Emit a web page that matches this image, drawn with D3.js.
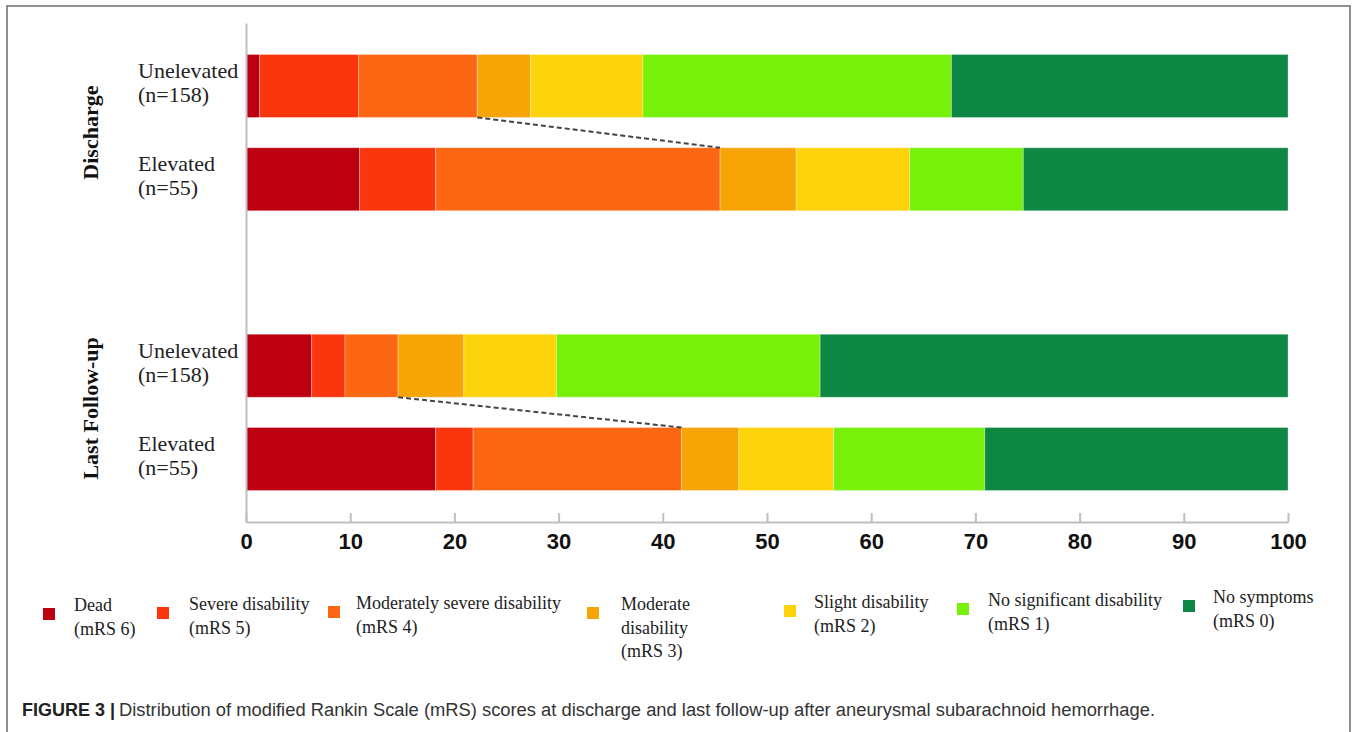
<!DOCTYPE html>
<html>
<head>
<meta charset="utf-8">
<script src="https://cdn.jsdelivr.net/npm/d3@7"></script>
<style>
  body { margin: 0; background: #fff; }
  svg { display: block; }
</style>
</head>
<body>
<svg id="chart" width="1357" height="732"></svg>
<script>
// mRS categories, worst to best (stack order left -> right)
const categories = ["mRS 6", "mRS 5", "mRS 4", "mRS 3", "mRS 2", "mRS 1", "mRS 0"];
const legendLines = [
    ["Dead", "(mRS 6)"],
    ["Severe disability", "(mRS 5)"],
    ["Moderately severe disability", "(mRS 4)"],
    ["Moderate", "disability", "(mRS 3)"],
    ["Slight disability", "(mRS 2)"],
    ["No significant disability", "(mRS 1)"],
    ["No symptoms", "(mRS 0)"]
];
const colors = ["#bc0012", "#fb360e", "#fd6612", "#f7a506", "#fdd30b", "#77f00a", "#0f8744"];

// rows (group / subgroup), one blank slot between the groups
const groups = ["Discharge", "Last Follow-up"];
const rowKeys = ["D-U", "D-E", "gap", "L-U", "L-E"];
const rowGroup = ["Discharge", "Discharge", null, "Last Follow-up", "Last Follow-up"];
const rowLabels = [["Unelevated", "(n=158)"], ["Elevated", "(n=55)"], null, ["Unelevated", "(n=158)"], ["Elevated", "(n=55)"]];

// percentages
const dischargeUnelevated = [1.3, 9.5, 11.4, 5.1, 10.8, 29.6, 32.3];
const dischargeElevated   = [10.9, 7.3, 27.3, 7.3, 10.9, 10.9, 25.4];
const lastUnelevated      = [6.3, 3.2, 5.1, 6.3, 8.9, 25.3, 44.9];
const lastElevated        = [18.2, 3.6, 20.0, 5.5, 9.1, 14.5, 29.1];

const xTicks = [0, 10, 20, 30, 40, 50, 60, 70, 80, 90, 100];

// legend layout
const legendSqX = [43, 157, 328, 587, 784, 957, 1183];
const legendTextX = [74, 189, 356, 621, 814, 988, 1213];
const legendBaseY = [611, 610, 609, 610, 608, 606, 603];

//////////////////////////////////////////////////////////////////////
const serif = "'Times New Roman', 'Liberation Serif', serif";
const sans = "Arial, 'Liberation Sans', sans-serif";

const svg = d3.select("#chart");

// outer frame
svg.append("rect")
    .attr("x", 7).attr("y", 6)
    .attr("width", 1343).attr("height", 740)
    .style("fill", "none")
    .style("stroke", "#6b6b6b")
    .style("stroke-width", 1.5);

const table = [
    { key: "D-U", vals: dischargeUnelevated },
    { key: "D-E", vals: dischargeElevated },
    { key: "L-U", vals: lastUnelevated },
    { key: "L-E", vals: lastElevated }
].map(r => {
    const o = { key: r.key };
    categories.forEach((c, i) => o[c] = r.vals[i]);
    return o;
});

const x = d3.scaleLinear().domain([0, 100]).range([246, 1288]);
const y = d3.scaleBand().domain(rowKeys).range([23, 522])
    .paddingInner(0.3244).paddingOuter(0.3377);

const stack = d3.stack().keys(categories);
const series = stack(table);

// bars
const layers = svg.append("g").attr("class", "bars")
    .selectAll("g")
    .data(series)
    .enter().append("g")
    .style("fill", (d, i) => colors[i]);

layers.selectAll("rect")
    .data(d => d)
    .enter().append("rect")
    .attr("x", d => x(d[0]))
    .attr("y", d => y(d.data.key))
    .attr("width", d => x(d[1]) - x(d[0]))
    .attr("height", y.bandwidth())
    .style("stroke", "#ffffff")
    .style("stroke-opacity", 0.3)
    .style("stroke-width", 1);

// dashed connectors at the end of mRS 4 (mRS 4-6 share)
const mrs4 = series[2];
[["D-U", "D-E"], ["L-U", "L-E"]].forEach(pair => {
    const a = mrs4.find(d => d.data.key === pair[0]);
    const b = mrs4.find(d => d.data.key === pair[1]);
    svg.append("line")
        .attr("x1", x(a[1])).attr("y1", y(pair[0]) + y.bandwidth())
        .attr("x2", x(b[1])).attr("y2", y(pair[1]))
        .style("stroke", "#444")
        .style("stroke-width", 2)
        .style("stroke-dasharray", "5,3");
});

// axes
const xAxis = svg.append("g")
    .attr("transform", "translate(0," + 522 + ")")
    .call(d3.axisBottom(x).tickValues(xTicks).tickSizeInner(-9).tickSizeOuter(0).tickPadding(11));
xAxis.selectAll("path, line").style("stroke", "#bfbfbf").style("stroke-width", 2);
xAxis.selectAll("text")
    .style("font-family", sans)
    .style("font-size", "22px")
    .style("font-weight", "bold")
    .style("fill", "#111");

const yAxis = svg.append("g")
    .attr("transform", "translate(" + 246 + ",0)")
    .call(d3.axisLeft(y).tickSize(0).tickFormat(""));
yAxis.select("path").style("stroke", "#bfbfbf").style("stroke-width", 2);

// row labels
rowKeys.forEach((k, i) => {
    if (!rowLabels[i]) return;
    const cy = y(k) + y.bandwidth() / 2;
    const t = svg.append("text")
        .style("font-family", serif)
        .style("font-size", "22px")
        .style("fill", "#222");
    rowLabels[i].forEach((line, j) => {
        t.append("tspan").attr("x", 138).attr("y", cy - 8 + j * 24).text(line);
    });
});

// group labels (rotated)
groups.forEach((g, gi) => {
    const keys = rowKeys.filter((k, i) => rowGroup[i] === g);
    const cy = d3.mean(keys, k => y(k) + y.bandwidth() / 2);
    svg.append("text")
        .attr("transform", "rotate(-90)")
        .attr("x", -cy + (gi === 1 ? 4 : 0))
        .attr("y", 98)
        .attr("text-anchor", "middle")
        .style("font-family", serif)
        .style("font-size", "22px")
        .style("font-weight", "bold")
        .style("fill", "#111")
        .text(g);
});

// legend
const legend = svg.append("g").attr("class", "legend");
categories.forEach((c, i) => {
    legend.append("rect")
        .attr("x", legendSqX[i]).attr("y", legendBaseY[i] - 3)
        .attr("width", 12).attr("height", 12)
        .style("fill", colors[i]);
    const t = legend.append("text")
        .style("font-family", serif)
        .style("font-size", "18px")
        .style("fill", "#222");
    legendLines[i].forEach((line, j) => {
        t.append("tspan").attr("x", legendTextX[i]).attr("y", legendBaseY[i] + j * 23.5).text(line);
    });
});

// caption
svg.append("text")
    .attr("x", 22).attr("y", 716)
    .attr("textLength", 93).attr("lengthAdjust", "spacingAndGlyphs")
    .style("font-family", sans)
    .style("font-size", "18px")
    .style("font-weight", "bold")
    .style("fill", "#222")
    .text("FIGURE 3 |");
svg.append("text")
    .attr("x", 119).attr("y", 716)
    .attr("textLength", 1036).attr("lengthAdjust", "spacingAndGlyphs")
    .style("font-family", sans)
    .style("font-size", "18px")
    .style("fill", "#333")
    .text("Distribution of modified Rankin Scale (mRS) scores at discharge and last follow-up after aneurysmal subarachnoid hemorrhage.");
</script>
</body>
</html>
